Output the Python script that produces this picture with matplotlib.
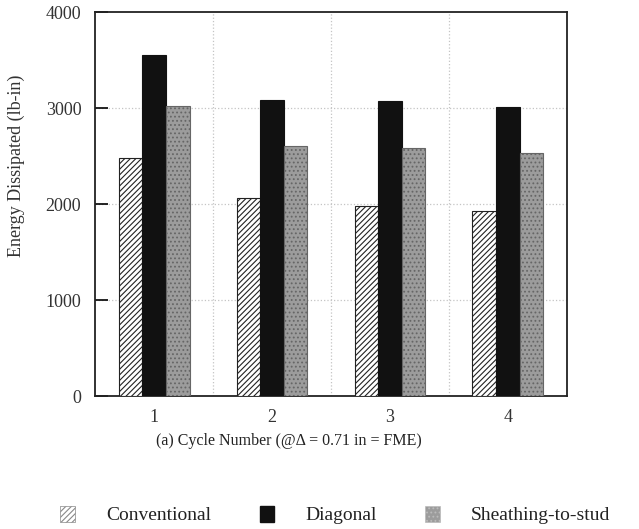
import numpy as np
import matplotlib.pyplot as plt
from matplotlib.patches import Patch

plt.rcParams['font.family'] = ['Liberation Serif', 'DejaVu Serif']
plt.rcParams['hatch.linewidth'] = 0.8

# data
cycles = ['1', '2', '3', '4']
conventional = [2480, 2065, 1980, 1930]
diagonal = [3550, 3085, 3075, 3010]
sheathing = [3020, 2605, 2585, 2535]
series_names = ['Conventional', 'Diagonal', 'Sheathing-to-stud']

fig = plt.figure(figsize=(6.39, 5.29), dpi=100)
ax = fig.add_axes([0.149, 0.251, 0.738, 0.726])

x = np.arange(1, len(cycles) + 1)
w = 0.2
ax.bar(x - w, conventional, w, facecolor='white', edgecolor='#222222', hatch='//////', linewidth=0.8, zorder=3)
ax.bar(x, diagonal, w, facecolor='#111111', edgecolor='#111111', linewidth=0.8, zorder=3)
ax.bar(x + w, sheathing, w, facecolor='#9c9c9c', edgecolor='#666666', hatch='....', linewidth=0.8, zorder=3)

ax.set_xlim(0.5, 4.5)
ax.set_ylim(0, 4000)
ax.set_xticks(x)
ax.set_xticklabels(cycles)
ax.set_yticks([0, 1000, 2000, 3000, 4000])
ax.tick_params(axis='y', direction='in', length=9, width=1.2, labelsize=13, pad=10, labelcolor='#333333')
ax.tick_params(axis='x', length=0, labelsize=13, pad=9, labelcolor='#333333')

for yv in [1000, 2000, 3000]:
    ax.axhline(yv, color='#c4c4c4', linestyle=':', linewidth=0.9, zorder=1)
for xv in [1.5, 2.5, 3.5]:
    ax.axvline(xv, color='#c4c4c4', linestyle=':', linewidth=0.9, zorder=1)

for s in ax.spines.values():
    s.set_linewidth(1.3)
    s.set_color('#222222')

ax.set_ylabel('Energy Dissipated (lb-in)', fontsize=13, color='#333333')
ax.yaxis.set_label_coords(-0.148, 0.60)
ax.set_xlabel('(a) Cycle Number (@\u0394 = 0.71 in = FME)', fontsize=11.5, color='#222222')
ax.xaxis.set_label_coords(0.41, -0.095)

handles = [
    Patch(facecolor='white', edgecolor='#888888', hatch='//////', linewidth=0.5),
    Patch(facecolor='#111111', edgecolor='#111111'),
    Patch(facecolor='#9c9c9c', edgecolor='#bbbbbb', hatch='....', linewidth=0.5),
]
fig.legend(handles, series_names, loc='center', bbox_to_anchor=(0.525, 0.026), ncol=3,
           frameon=False, fontsize=14, handlelength=0.75, handleheight=0.85,
           handletextpad=1.6, columnspacing=2.5, labelcolor='#222222')

fig.savefig('out.png', dpi=100)
